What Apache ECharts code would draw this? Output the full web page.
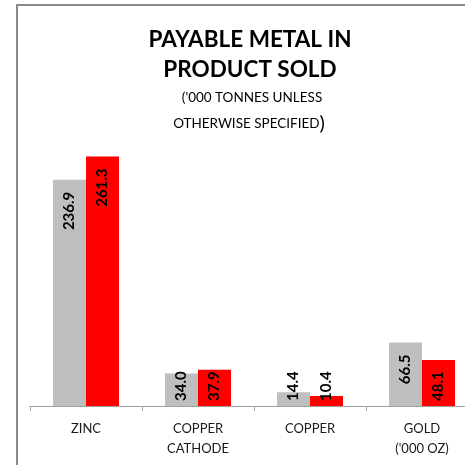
<!DOCTYPE html>
<html>
<head>
<meta charset="utf-8">
<script src="https://cdn.jsdelivr.net/npm/echarts@6/dist/echarts.min.js"></script>
<style>
  html, body { margin: 0; padding: 0; background: #fff; overflow: hidden; }
  #main { width: 478px; height: 465px; }
</style>
</head>
<body>
<div id="main"></div>
<script>
// categories along the x axis
const categories = ['ZINC', 'COPPER\nCATHODE', 'COPPER', "GOLD\n('000 OZ)"]
// prior year (grey) and current year (red)
const priorValues = [236.9, 34.0, 14.4, 66.5]
const currentValues = [261.3, 37.9, 10.4, 48.1]

const FONT = 'Lato, "Open Sans", sans-serif'

// short bars can't hold their label at the top, put it at the base instead
function buildData (values) {
  return values.map(v => {
    const big = v >= 55
    return {
      value: v,
      label: big
        ? { position: 'insideTop', distance: 12, align: 'right' }
        : { position: 'insideBottom', distance: 5, align: 'left' }
    }
  })
}

const chart = echarts.init(document.getElementById('main'))
chart.setOption({
  animation: false,
  backgroundColor: '#fff',
  // the plot runs past the right edge of the window, like the original
  grid: { left: 30, right: 0, top: 119.5, bottom: 59 },
  graphic: [
    {
      type: 'rect',
      shape: { x: 17, y: 5, width: 700, height: 700 },
      style: { fill: 'none', stroke: '#8a8a8a', lineWidth: 2 },
      z: 0
    },
    {
      type: 'text', x: 250, y: 39.5,
      style: { text: 'PAYABLE METAL IN', align: 'center', verticalAlign: 'middle', font: 'bold 22.5px ' + FONT, fill: '#000' }
    },
    {
      type: 'text', x: 250, y: 70,
      style: { text: 'PRODUCT SOLD', align: 'center', verticalAlign: 'middle', font: 'bold 22.5px ' + FONT, fill: '#000' }
    },
    {
      type: 'text', x: 252, y: 97.5,
      style: { text: "('000 TONNES UNLESS", align: 'center', verticalAlign: 'middle', font: '13.5px ' + FONT, fill: '#000' }
    },
    {
      type: 'text', x: 249, y: 124,
      style: {
        text: '{a|OTHERWISE SPECIFIED}{b|)}',
        align: 'center',
        verticalAlign: 'middle',
        rich: {
          a: { fontSize: 13.5, fontFamily: FONT, fill: '#000' },
          b: { fontSize: 20, fontFamily: FONT, fill: '#000' }
        }
      }
    }
  ],
  xAxis: {
    type: 'category',
    data: categories,
    axisLine: { lineStyle: { color: '#a0a0a0', width: 1 } },
    axisTick: { show: true, length: 5, lineStyle: { color: '#a0a0a0' } },
    axisLabel: {
      color: '#1a1a1a',
      fontSize: 13,
      fontFamily: FONT,
      lineHeight: 20,
      margin: 13,
      interval: 0
    }
  },
  yAxis: {
    type: 'value',
    min: 0,
    max: 300,
    show: false,
    splitLine: { show: false }
  },
  series: [
    {
      type: 'bar',
      data: buildData(priorValues),
      barWidth: 33,
      barGap: '0%',
      itemStyle: { color: '#bfbfbf' },
      label: {
        show: true,
        rotate: 90,
        verticalAlign: 'middle',
        formatter: p => p.value.toFixed(1),
        color: '#000',
        fontWeight: 'bold',
        fontSize: 15,
        fontFamily: FONT
      }
    },
    {
      type: 'bar',
      data: buildData(currentValues),
      barWidth: 33,
      barGap: '0%',
      itemStyle: { color: '#ff0000' },
      label: {
        show: true,
        rotate: 90,
        verticalAlign: 'middle',
        formatter: p => p.value.toFixed(1),
        color: '#000',
        fontWeight: 'bold',
        fontSize: 15,
        fontFamily: FONT
      }
    }
  ]
})
</script>
</body>
</html>
